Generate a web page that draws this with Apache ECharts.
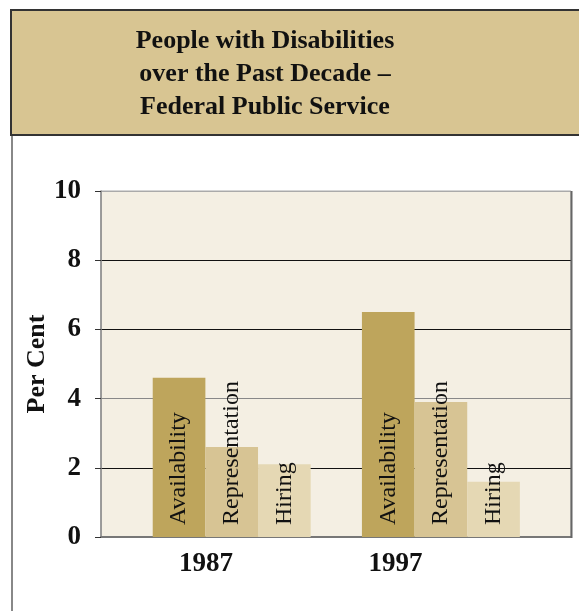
<!DOCTYPE html>
<html>
<head>
<meta charset="utf-8">
<script src="https://cdn.jsdelivr.net/npm/echarts@6/dist/echarts.min.js"></script>
<style>
  html, body { margin: 0; padding: 0; background: #fff; }
  #chart { width: 579px; height: 611px; }
</style>
</head>
<body>
<div id="chart"></div>
<script>
var years = ['1987', '1997'];
var availability = [4.6, 6.5];
var representation = [2.6, 3.9];
var hiring = [2.1, 1.6];
var yTicks = [0, 2, 4, 6, 8, 10];

var serif = "'Liberation Serif', 'Times New Roman', serif";

function barSeries(name, values, color) {
  return {
    type: 'bar',
    name: name,
    xAxisIndex: 1,
    yAxisIndex: 1,
    data: values,
    barGap: 0,
    barCategoryGap: '24.5%',
    itemStyle: { color: color },
    label: {
      show: true,
      formatter: '{a}',
      position: 'insideBottom',
      distance: 12,
      rotate: 90,
      align: 'left',
      verticalAlign: 'middle',
      color: '#111',
      fontFamily: serif,
      fontSize: 24
    }
  };
}

var chart = echarts.init(document.getElementById('chart'));
chart.setOption({
  animation: false,
  backgroundColor: '#fff',
  title: {
    text: 'People with Disabilities\nover the Past Decade –\nFederal Public Service',
    left: 265,
    top: 25,
    padding: 0,
    textAlign: 'center',
    textStyle: {
      fontFamily: serif,
      fontWeight: 'bold',
      fontSize: 26,
      lineHeight: 33,
      color: '#111'
    }
  },
  graphic: [
    {
      type: 'line',
      z: -1,
      shape: { x1: 12, y1: 10, x2: 12, y2: 611 },
      style: { stroke: '#888', lineWidth: 2 }
    },
    {
      type: 'rect',
      z: -1,
      shape: { x: 11, y: 10, width: 580, height: 125 },
      style: { fill: '#d8c592', stroke: '#333', lineWidth: 2 }
    },
    {
      type: 'line',
      z: 10,
      shape: { x1: 571.5, y1: 191, x2: 571.5, y2: 538 },
      style: { stroke: '#666', lineWidth: 2 }
    }
  ],
  grid: [
    { left: 101, top: 191, width: 470, height: 346, show: true,
      backgroundColor: '#f4efe3', borderColor: '#aaa', borderWidth: 1 },
    { left: 127.1, top: 191, width: 418.4, height: 346 },
    { left: 111.25, top: 191, width: 379, height: 346 }
  ],
  xAxis: [
    { gridIndex: 0, type: 'category', data: years,
      axisLine: { lineStyle: { color: '#777', width: 2 } },
      axisTick: { show: false }, axisLabel: { show: false } },
    { gridIndex: 1, type: 'category', data: years, show: false },
    { gridIndex: 2, type: 'category', data: years,
      axisLine: { show: false }, axisTick: { show: false },
      axisLabel: { margin: 14, color: '#111', fontFamily: serif,
        fontWeight: 'bold', fontSize: 27 } }
  ],
  yAxis: [
    { gridIndex: 0, type: 'value', min: yTicks[0], max: yTicks[yTicks.length - 1], interval: 2,
      name: 'Per Cent', nameLocation: 'middle', nameRotate: 90, nameGap: 51,
      nameMoveOverlap: false,
      nameTextStyle: { fontFamily: serif, fontWeight: 'bold', fontSize: 26, color: '#111' },
      axisLine: { show: true, lineStyle: { color: '#888', width: 1.5 } },
      axisTick: { show: true, length: 6, lineStyle: { color: '#333' } },
      axisLabel: { margin: 20, color: '#111', fontFamily: serif, fontWeight: 'bold', fontSize: 27 },
      splitLine: { show: true, lineStyle: { color: ['#888', '#111', '#888', '#111', '#111', '#aaa'], width: 1.2 } } },
    { gridIndex: 1, type: 'value', min: 0, max: 10, show: false, splitLine: { show: false } },
    { gridIndex: 2, type: 'value', min: 0, max: 10, show: false, splitLine: { show: false } }
  ],
  series: [
    barSeries('Availability', availability, '#bea55c'),
    barSeries('Representation', representation, '#d7c494'),
    barSeries('Hiring', hiring, '#e5d8b4')
  ]
});
</script>
</body>
</html>
